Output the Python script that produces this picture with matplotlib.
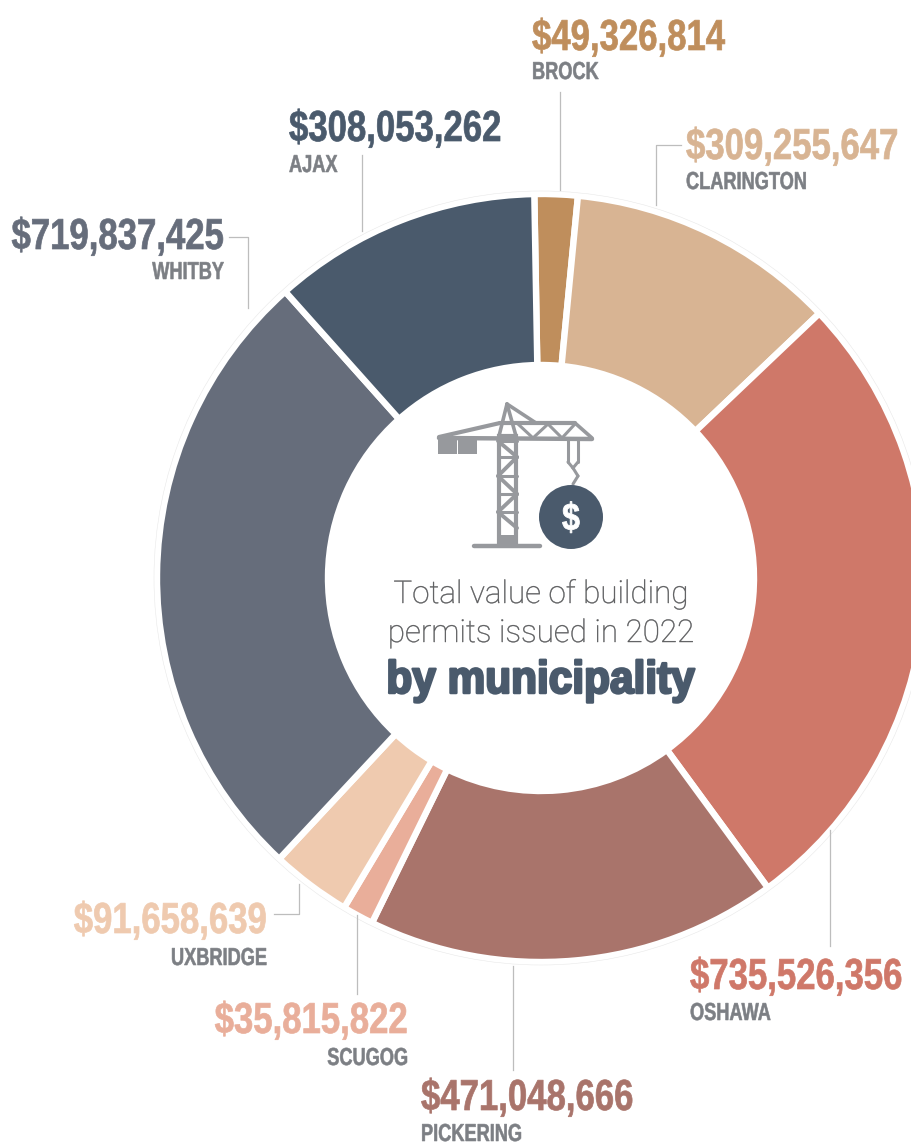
import matplotlib
matplotlib.use('Agg')
import matplotlib.pyplot as plt
import matplotlib.patheffects as pe
from matplotlib.patches import Circle, Rectangle, Polygon
from matplotlib.transforms import Affine2D

# municipalities, clockwise from the top
names = ['BROCK', 'CLARINGTON', 'OSHAWA', 'PICKERING', 'SCUGOG', 'UXBRIDGE', 'WHITBY', 'AJAX']
values = [49326814, 309255647, 735526356, 471048666, 35815822, 91658639, 719837425, 308053262]
colors = ['#BF8E5C', '#D8B493', '#CF7869', '#A9746B', '#E9AE9A', '#EFCAAF', '#666D7B', '#4A5A6C']

# label anchor: x, value baseline, name baseline, alignment (y counted from the top, in pixels)
label_x = [532, 686, 690, 421, 408, 267, 224, 289]
label_y = [50, 159, 989, 1110, 1033, 933, 249, 141]
name_y = [79, 189, 1020, 1141, 1065, 965, 279, 172]
label_ha = ['left', 'left', 'left', 'left', 'right', 'right', 'right', 'left']

# leader lines
leaders = [
    [(560, 92), (560, 190)],
    [(681, 145), (656, 145), (656, 205)],
    [(830, 830), (830, 946)],
    [(513, 966), (513, 1070)],
    [(357, 915), (357, 994)],
    [(274, 914), (299, 914), (299, 884)],
    [(229, 237), (248, 237), (248, 308)],
    [(362, 155), (362, 231)],
]

W, H = 911, 1146
CX, CY = 541, 578
GREY = '#97999D'
NAME_GREY = '#7C7F84'
NAVY = '#4A5A6C'
BOLD = 'Liberation Sans'


def fy(y):
    # 从顶部算起的像素转成坐标
    return H - y


# 没有窄体字，把文字沿基线纵向拉高
class Tall(pe.AbstractPathEffect):
    def __init__(self, k, stroke=0.0):
        super().__init__()
        self.k = k
        self.stroke = stroke

    def draw_path(self, renderer, gc, tpath, affine, rgbFace=None):
        y0 = affine.get_matrix()[1, 2]
        a = affine + Affine2D().translate(0, -y0).scale(1, self.k).translate(0, y0)
        gc0 = renderer.new_gc()
        gc0.copy_properties(gc)
        gc0.set_linewidth(self.stroke)
        gc0.set_foreground(rgbFace)
        renderer.draw_path(gc0, tpath, a, rgbFace)
        gc0.restore()


fig = plt.figure(figsize=(W / 100, H / 100), dpi=100)
ax = fig.add_axes([0, 0, 1, 1])

ax.pie(values, colors=colors, startangle=91, counterclock=False, center=(CX, fy(CY)), radius=384,
       wedgeprops=dict(width=171, edgecolor='white', linewidth=4.6, joinstyle='miter'), frame=True)
ax.add_patch(Circle((CX, fy(CY)), 387, fill=False, edgecolor='#E8E8E8', linewidth=0.4))

ax.set_xlim(0, W)
ax.set_ylim(0, H)
ax.set_aspect('equal')
ax.axis('off')

for pts in leaders:
    ax.plot([p[0] for p in pts], [fy(p[1]) for p in pts], color='#BDBDBD', linewidth=0.9, zorder=1)

for i in range(len(names)):
    ax.text(label_x[i], fy(label_y[i]), '${:,}'.format(values[i]), color=colors[i], family=BOLD,
            weight='bold', fontsize=25, ha=label_ha[i], va='baseline',
            path_effects=[Tall(1.25, 0.5)])
    ax.text(label_x[i], fy(name_y[i]), names[i], color=NAME_GREY, family=BOLD,
            weight='bold', fontsize=13.1, ha=label_ha[i], va='baseline',
            path_effects=[Tall(1.35, 0.4)])


def seg(x0, y0, x1, y1, lw=2.0):
    ax.plot([x0, x1], [fy(y0), fy(y1)], color=GREY, linewidth=lw, solid_capstyle='round', zorder=4)


# crane
ax.add_patch(Rectangle((438, fy(454)), 18.5, 17, facecolor=GREY, linewidth=0, zorder=4))
ax.add_patch(Rectangle((458, fy(454)), 18.5, 17, facecolor=GREY, linewidth=0, zorder=4))
ax.add_patch(Polygon([(499, fy(545)), (516, fy(545)), (516, fy(436)), (499, fy(436))], closed=True,
                     fill=False, edgecolor=GREY, linewidth=3.0, zorder=4))
ax.add_patch(Rectangle((497, fy(545)), 21, 10, facecolor=GREY, linewidth=0, zorder=4))
seg(474, 546, 540, 546, 3.2)
rungs = [441, 457, 476, 494, 512, 528]
for k in range(len(rungs) - 1):
    seg(498, rungs[k], 517, rungs[k], 2.2)
    if k % 2 == 0:
        seg(498, rungs[k], 517, rungs[k + 1], 2.8)
    else:
        seg(517, rungs[k], 498, rungs[k + 1], 2.8)
seg(439, 437, 500, 423, 3.0)
seg(500, 423, 575, 423, 3.0)
seg(575, 423, 592, 438, 2.6)
seg(439, 438, 592, 439, 3.2)
seg(507, 404, 499, 436, 2.6)
seg(507, 404, 516, 436, 2.6)
seg(507, 404, 536, 423, 2.6)
seg(518, 424, 533, 438, 2.2)
seg(533, 438, 548, 424, 2.2)
seg(548, 424, 562, 438, 2.2)
seg(562, 438, 575, 424, 2.2)
seg(568, 440, 568, 462, 2.2)
seg(578, 440, 578, 462, 2.2)
seg(568, 462, 573, 468, 2.2)
seg(578, 462, 573, 468, 2.2)
seg(573, 468, 578, 476, 2.2)
seg(578, 476, 573, 484, 2.2)
ax.add_patch(Circle((571, fy(517)), 32, facecolor=NAVY, linewidth=0, zorder=5))
ax.text(571, fy(530), '$', color='white', family=BOLD, weight='bold', fontsize=23,
        ha='center', va='baseline', zorder=6, path_effects=[Tall(1.2, 0.6)])

# centre text
ax.text(541, fy(603), 'Total value of building', color='#58595B', family='Roboto', weight='light',
        fontsize=22.6, ha='center', va='baseline', path_effects=[Tall(1.0, 0.3)])
ax.text(541, fy(642), 'permits issued in 2022', color='#58595B', family='Roboto', weight='light',
        fontsize=22.6, ha='center', va='baseline', path_effects=[Tall(1.0, 0.3)])
ax.text(541, fy(693), 'by municipality', color=NAVY, family=BOLD, weight='bold',
        fontsize=30.5, ha='center', va='baseline', path_effects=[Tall(1.08, 1.8)])

fig.savefig('out.png', dpi=100, facecolor='white')
